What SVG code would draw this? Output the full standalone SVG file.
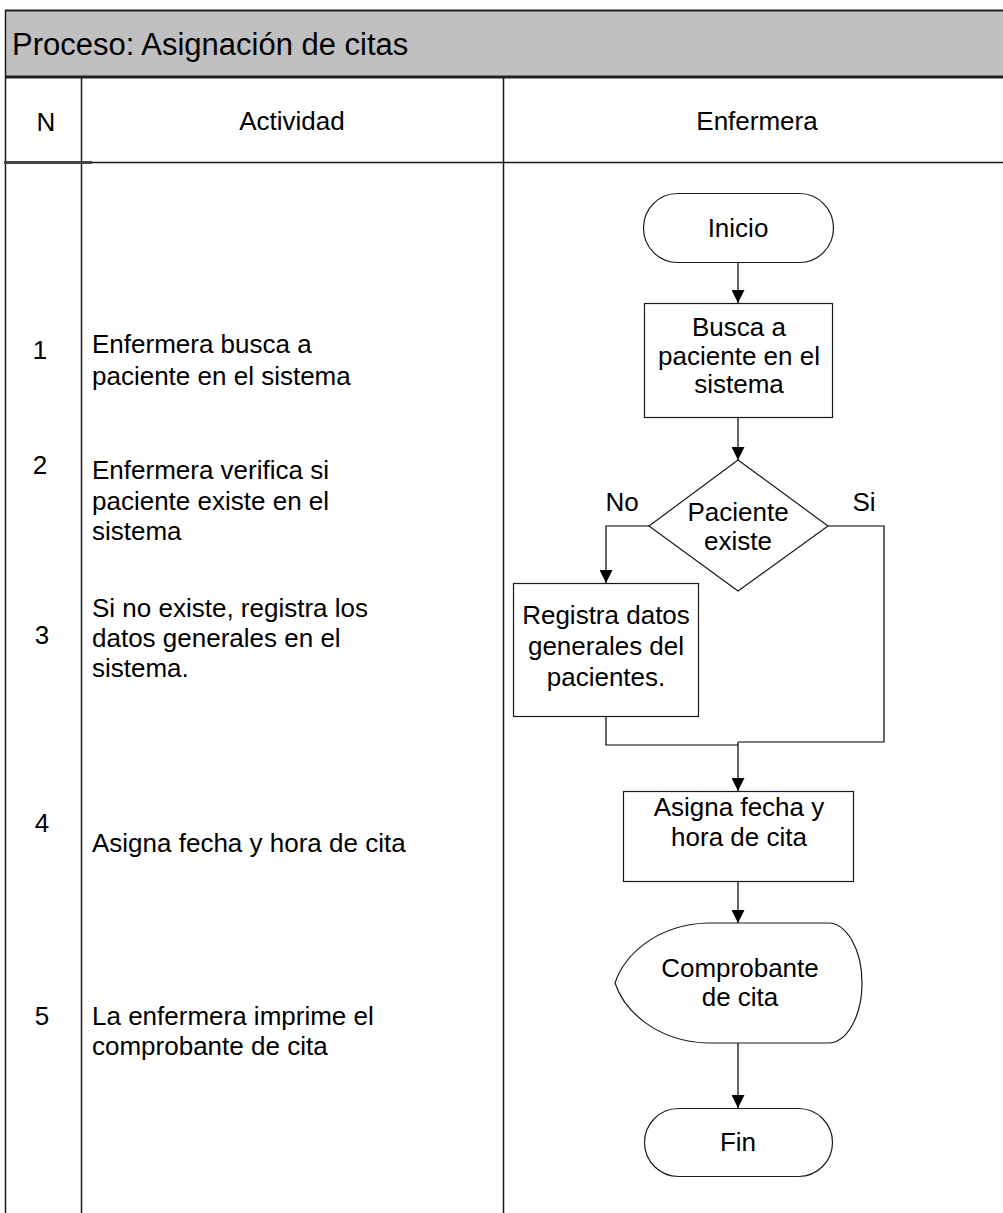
<svg xmlns="http://www.w3.org/2000/svg" width="1003" height="1213" viewBox="0 0 1003 1213">
  <style>
    text { font-family: "Liberation Sans", Arial, Helvetica, sans-serif; fill: #000; }
    .title { font-size: 31px; }
    .hd { font-size: 26px; text-anchor: middle; }
    .num { font-size: 26px; text-anchor: middle; }
    .act { font-size: 26px; }
    .lbl { font-size: 26px; text-anchor: middle; }
    .grid { stroke: #1a1a1a; stroke-width: 1.5; fill: none; }
    .shape { fill: #fff; stroke: #1a1a1a; stroke-width: 1.2; }
    .conn { fill: none; stroke: #000; stroke-width: 1.2; }
  </style>
  <defs>
    <marker id="arrow" markerUnits="userSpaceOnUse" markerWidth="13" markerHeight="13" refX="13" refY="6.5" orient="auto">
      <path d="M0,0 L13,6.5 L0,13 z" fill="#000"/>
    </marker>
  </defs>

  <rect x="0" y="0" width="1003" height="1213" fill="#fff"/>

  <!-- table frame -->
  <g id="table">
    <rect x="5" y="10" width="1000" height="67" fill="#c0c0c0"/>
    <line x1="5" y1="10.5" x2="1003" y2="10.5" stroke="#222" stroke-width="2"/>
    <line x1="5" y1="77" x2="1003" y2="77" stroke="#222" stroke-width="3"/>
    <line x1="5.5" y1="10" x2="5.5" y2="1213" class="grid"/>
    <line x1="81.5" y1="77" x2="81.5" y2="1213" class="grid"/>
    <line x1="503.5" y1="77" x2="503.5" y2="1213" class="grid"/>
    <line x1="82" y1="162.5" x2="1003" y2="162.5" class="grid"/>
    <line x1="4" y1="162.5" x2="92" y2="162.5" stroke="#444" stroke-width="3"/>
    <text class="title" x="12" y="55">Proceso: Asignación de citas</text>
    <text class="hd" x="46" y="131">N</text>
    <text class="hd" x="292" y="130">Actividad</text>
    <text class="hd" x="757" y="130">Enfermera</text>
  </g>

  <!-- activity list -->
  <g id="activities">
    <text class="num" x="40" y="359">1</text>
    <text class="act" x="92" y="353">Enfermera busca a</text>
    <text class="act" x="92" y="385">paciente en el sistema</text>

    <text class="num" x="40" y="474">2</text>
    <text class="act" x="92" y="479">Enfermera verifica si</text>
    <text class="act" x="92" y="510">paciente existe en el</text>
    <text class="act" x="92" y="540">sistema</text>

    <text class="num" x="42" y="644">3</text>
    <text class="act" x="92" y="617">Si no existe, registra los</text>
    <text class="act" x="92" y="647">datos generales en el</text>
    <text class="act" x="92" y="677">sistema.</text>

    <text class="num" x="42" y="832">4</text>
    <text class="act" x="92" y="852">Asigna fecha y hora de cita</text>

    <text class="num" x="42" y="1025">5</text>
    <text class="act" x="92" y="1025">La enfermera imprime el</text>
    <text class="act" x="92" y="1055">comprobante de cita</text>
  </g>

  <!-- connectors -->
  <g id="connectors">
    <line class="conn" x1="738" y1="262" x2="738" y2="303" marker-end="url(#arrow)"/>
    <line class="conn" x1="738" y1="417" x2="738" y2="460" marker-end="url(#arrow)"/>
    <polyline class="conn" points="649,526 606,526 606,583" marker-end="url(#arrow)"/>
    <polyline class="conn" points="828,526 884,526 884,742 738,742"/>
    <polyline class="conn" points="606,716 606,745 738,745"/>
    <line class="conn" x1="738" y1="742" x2="738" y2="791" marker-end="url(#arrow)"/>
    <line class="conn" x1="738" y1="881" x2="738" y2="923" marker-end="url(#arrow)"/>
    <line class="conn" x1="738" y1="1043" x2="738" y2="1108" marker-end="url(#arrow)"/>
    <text class="lbl" x="622" y="511">No</text>
    <text class="lbl" x="864" y="511">Si</text>
  </g>

  <!-- nodes -->
  <g id="inicio">
    <rect class="shape" x="643.5" y="193.5" width="190" height="69" rx="34" ry="34.5"/>
    <text class="lbl" x="738" y="237">Inicio</text>
  </g>

  <g id="busca">
    <rect class="shape" x="644.5" y="303.5" width="188" height="114"/>
    <text class="lbl" x="739" y="336">Busca a</text>
    <text class="lbl" x="739" y="365">paciente en el</text>
    <text class="lbl" x="739" y="393">sistema</text>
  </g>

  <g id="decision">
    <polygon class="shape" points="738,460 828,526 738,591 649,526"/>
    <text class="lbl" x="738" y="521">Paciente</text>
    <text class="lbl" x="738" y="550">existe</text>
  </g>

  <g id="registra">
    <rect class="shape" x="513.5" y="583.5" width="185" height="133"/>
    <text class="lbl" x="606" y="624">Registra datos</text>
    <text class="lbl" x="606" y="655">generales del</text>
    <text class="lbl" x="606" y="686">pacientes.</text>
  </g>

  <g id="asigna">
    <rect class="shape" x="623.5" y="791.5" width="230" height="90"/>
    <text class="lbl" x="739" y="816">Asigna fecha y</text>
    <text class="lbl" x="739" y="846">hora de cita</text>
  </g>

  <g id="comprobante">
    <!-- display symbol: flat top/bottom, pointed left, rounded right -->
    <path class="shape" d="M707,923 L828,923 A34,60 0 0 1 828,1043 L707,1043 C655,1041 624,1010 615,983 C624,956 655,925 707,923 Z"/>
    <text class="lbl" x="740" y="977">Comprobante</text>
    <text class="lbl" x="740" y="1006">de cita</text>
  </g>

  <g id="fin">
    <rect class="shape" x="644.5" y="1108.5" width="188" height="68" rx="34" ry="34"/>
    <text class="lbl" x="738" y="1151">Fin</text>
  </g>
</svg>
